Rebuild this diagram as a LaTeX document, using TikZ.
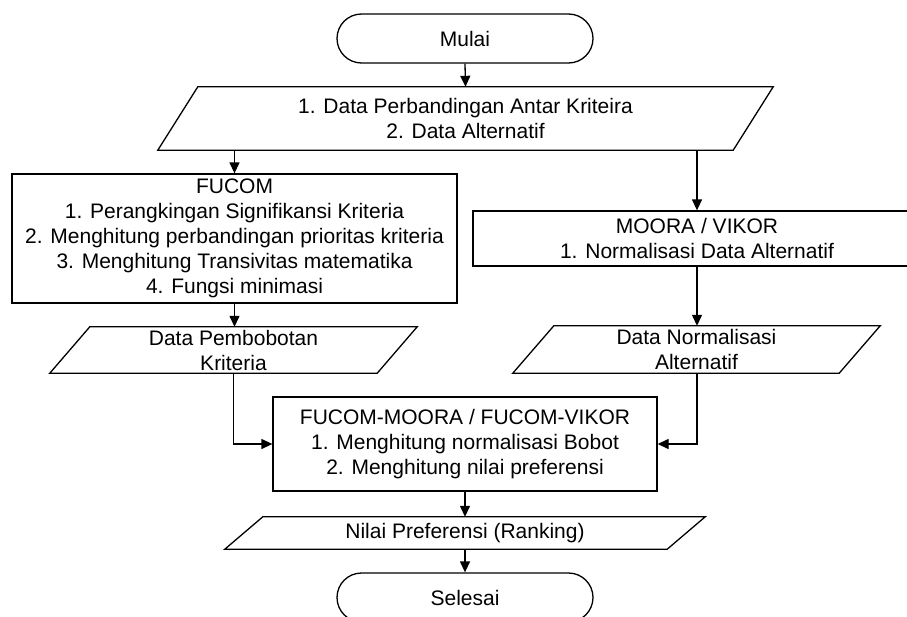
\documentclass[tikz,border=0pt]{standalone}
\usepackage{fontspec}
\setmainfont{Liberation Sans}
\usetikzlibrary{shapes.misc,arrows.meta,calc}
\begin{document}
\begin{tikzpicture}[x=1pt,y=-1pt,
  every node/.style={font=\fontsize{21}{25}\selectfont, align=center, inner sep=0pt},
  lw/.style={line width=1.3pt},
  term/.style={lw, draw, rounded rectangle, minimum width=256pt, minimum height=49pt},
  proc/.style={lw, draw, rectangle},
  iobox/.style={rectangle},
  conn/.style={lw, -{Triangle[length=11pt,width=10pt]}},
  plain/.style={lw}
]
\useasboundingbox (0,0) rectangle (907,616);
\fill[white] (0,0) rectangle (907,616);

\node[term] (mulai) at (465,38.5) {Mulai};
\node[iobox, minimum width=615pt, minimum height=63pt] (p1) at (465.5,118.5) {1. Data Perbandingan Antar Kriteira\\2. Data Alternatif};
\draw[lw] ($(p1.north west)+(40,0)$) -- (p1.north east) -- ($(p1.south east)+(-40,0)$) -- (p1.south west) -- cycle;

\node[proc, minimum width=445pt, minimum height=129pt] (fucom) at (234.5,238.5) {FUCOM\\1. Perangkingan Signifikansi Kriteria\\2. Menghitung perbandingan prioritas kriteria\\3. Menghitung Transivitas matematika\\4. Fungsi minimasi};
\node[proc, minimum width=448pt, minimum height=55pt] (moora) at (697,238.5) {MOORA / VIKOR\\1. Normalisasi Data Alternatif};

\node[iobox, minimum width=367pt, minimum height=46pt] (dp) at (233.5,350) {Data Pembobotan\\Kriteria};
\draw[lw] ($(dp.north west)+(40,0)$) -- (dp.north east) -- ($(dp.south east)+(-40,0)$) -- (dp.south west) -- cycle;
\node[iobox, minimum width=367pt, minimum height=47pt] (dn) at (696.5,349.5) {Data Normalisasi\\Alternatif};
\draw[lw] ($(dn.north west)+(41,0)$) -- (dn.north east) -- ($(dn.south east)+(-41,0)$) -- (dn.south west) -- cycle;

\node[proc, minimum width=384pt, minimum height=94pt] (fm) at (465,444) {FUCOM-MOORA / FUCOM-VIKOR\\1. Menghitung normalisasi Bobot\\2. Menghitung nilai preferensi};

\node[iobox, minimum width=480pt, minimum height=32pt] (np) at (465,533) {Nilai Preferensi (Ranking)};
\draw[lw] ($(np.north west)+(38,0)$) -- (np.north east) -- ($(np.south east)+(-38,0)$) -- (np.south west) -- cycle;

\node[term] (selesai) at (465,597.5) {Selesai};

\draw[conn] (mulai.south) -- (p1.north);
\draw[conn] (p1.south -| fucom.north) -- (fucom.north);
\draw[conn] (p1.south -| moora.north) -- (moora.north);
\draw[conn] (fucom.south) -- (dp.north -| fucom.south);
\draw[conn] (moora.south) -- (dn.north -| moora.south);
\draw[conn] (dp.south) |- (fm.west);
\draw[conn] (dn.south -| moora.south) |- (fm.east);
\draw[conn] (fm.south) -- (np.north);
\draw[conn] (np.south) -- (selesai.north);
\end{tikzpicture}
\end{document}
